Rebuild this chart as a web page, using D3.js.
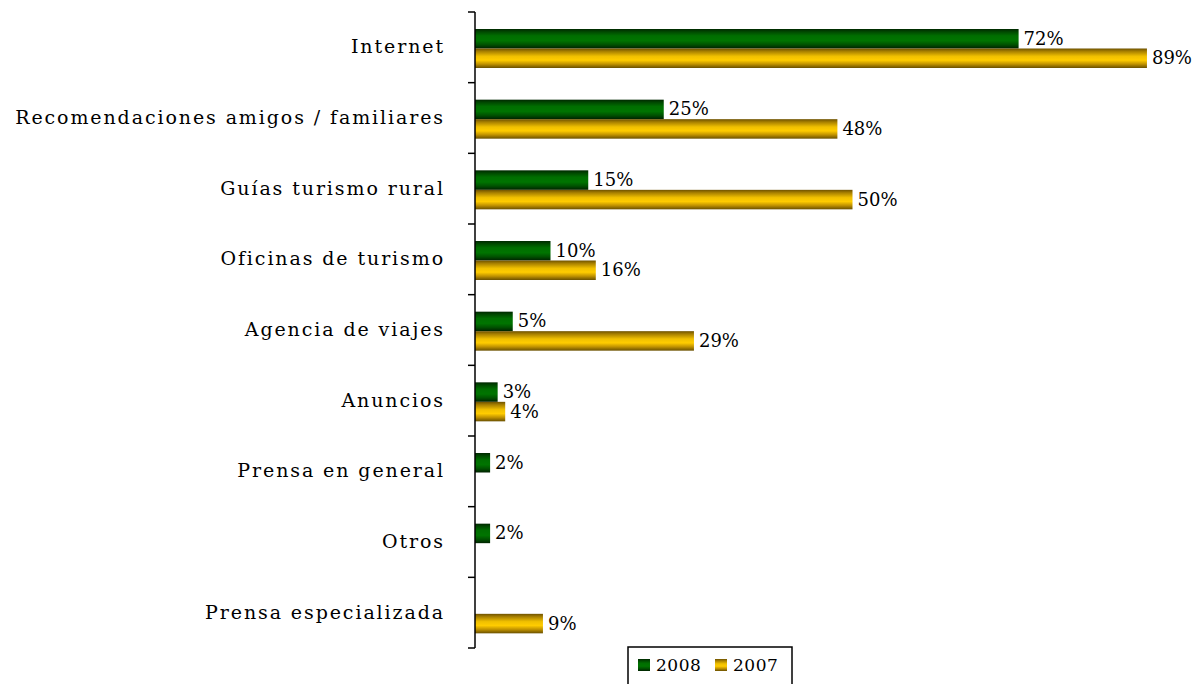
<!DOCTYPE html>
<html>
<head>
    <meta charset="UTF-8">
    <title>Fuentes de información</title>
    <style>
        body { margin: 0; background: #fff; }
        text { font-family: "DejaVu Serif", serif; fill: #000; }
    </style>
</head>
<body>
    <script src="https://d3js.org/d3.v7.min.js"></script>
    <svg width="1200" height="684"></svg>
    <script>
        let svg = d3.select("svg");

        // categories, top to bottom
        let categories = [
            "Internet",
            "Recomendaciones amigos / familiares",
            "Guías turismo rural",
            "Oficinas de turismo",
            "Agencia de viajes",
            "Anuncios",
            "Prensa en general",
            "Otros",
            "Prensa especializada"
        ];
        // null = no bar for that year
        let values2008 = [72, 25, 15, 10, 5, 3, 2, 2, null];
        let values2007 = [89, 48, 50, 16, 29, 4, null, null, 9];
        let series = ["2008", "2007"];

        let x0 = 475;
        let x = d3.scaleLinear().domain([0, 100]).range([x0, 1230]);
        let y = d3.scaleBand().domain(categories).range([12, 648]);
        let sub = d3.scaleBand().domain(series).range([17, 56]);

        // gradients for the cylinder-ish bars
        let defs = svg.append("defs");
        function grad(id, stops) {
            let g = defs.append("linearGradient").attr("id", id)
                .attr("x1", 0).attr("y1", 0).attr("x2", 0).attr("y2", 1);
            stops.forEach(s => g.append("stop").attr("offset", s[0]).attr("stop-color", s[1]));
        }
        grad("g2008", [[0, "#002800"], [0.15, "#004a00"], [0.35, "#006e00"], [0.6, "#007400"], [0.8, "#005200"], [1, "#002200"]]);
        grad("g2007", [[0, "#6e5200"], [0.15, "#a88000"], [0.4, "#f0c000"], [0.6, "#ffcc00"], [0.8, "#c09200"], [1, "#6a5000"]]);

        let data = [];
        categories.forEach((c, i) => {
            data.push({ cat: c, s: "2008", v: values2008[i] });
            data.push({ cat: c, s: "2007", v: values2007[i] });
        });
        data = data.filter(d => d.v !== null);

        svg.append("g").selectAll("rect")
            .data(data).enter()
            .append("rect")
            .attr("x", x0)
            .attr("y", d => y(d.cat) + sub(d.s))
            .attr("width", d => x(d.v) - x0)
            .attr("height", sub.bandwidth())
            .attr("fill", d => d.s === "2008" ? "url(#g2008)" : "url(#g2007)");

        svg.append("g").selectAll("text")
            .data(data).enter()
            .append("text")
            .attr("x", d => x(d.v) + 5)
            .attr("y", d => y(d.cat) + sub(d.s) + sub.bandwidth() / 2 + 6)
            .style("font-size", "18px")
            .text(d => d.v + "%");

        // axis with ticks at band boundaries
        let axis = svg.append("g");
        axis.append("line")
            .attr("x1", x0).attr("x2", x0)
            .attr("y1", 12).attr("y2", 648)
            .attr("stroke", "#000").attr("stroke-width", 1.5);
        let edges = categories.map(c => y(c)).concat([648]);
        axis.selectAll(".tick").data(edges).enter()
            .append("line")
            .attr("x1", x0 - 7).attr("x2", x0)
            .attr("y1", d => d).attr("y2", d => d)
            .attr("stroke", "#000").attr("stroke-width", 1.5);

        axis.selectAll(".lab").data(categories).enter()
            .append("text")
            .attr("x", 445)
            .attr("y", d => y(d) + y.bandwidth() / 2 + 6)
            .attr("text-anchor", "end")
            .style("font-size", "19px")
            .style("letter-spacing", "1.9px")
            .text(d => d);

        // legend
        let legend = svg.append("g").attr("transform", "translate(628,647)");
        legend.append("rect")
            .attr("width", 164).attr("height", 45)
            .attr("fill", "#fff").attr("stroke", "#000").attr("stroke-width", 1.5);
        let items = legend.selectAll(".item").data(series).enter()
            .append("g")
            .attr("transform", (d, i) => "translate(" + (10 + i * 77) + ",12)");
        items.append("rect")
            .attr("width", 12).attr("height", 12)
            .attr("fill", d => "url(#g" + d + ")");
        items.append("text")
            .attr("x", 18).attr("y", 12)
            .style("font-size", "17px")
            .style("letter-spacing", "0.5px")
            .text(d => d);
    </script>
</body>
</html>
